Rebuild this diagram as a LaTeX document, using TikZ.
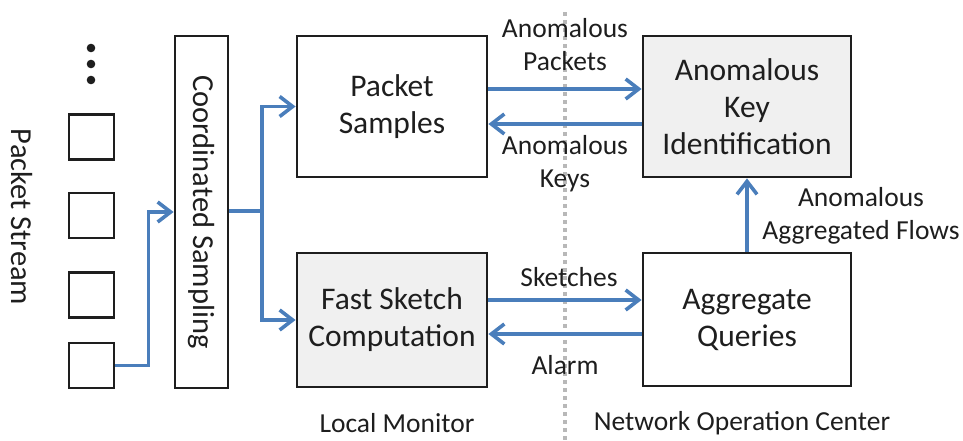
\documentclass[tikz,border=0pt]{standalone}
\usepackage{fontspec}
\setmainfont{Carlito}
\usetikzlibrary{arrows.meta}
\definecolor{flowblue}{RGB}{74,126,187}
\definecolor{boxgray}{RGB}{240,240,240}
\definecolor{ink}{RGB}{30,30,30}
\tikzset{
  block/.style={draw=ink, line width=2.8pt, inner sep=0pt, align=center, text=ink,
    font=\fontsize{31.5}{37}\selectfont},
  shaded/.style={block, fill=boxgray},
  pkt/.style={draw=ink, line width=2.8pt, minimum width=45pt, minimum height=45pt, inner sep=0pt},
  lbl/.style={align=center, text=ink, inner sep=0pt, font=\fontsize{27.5}{33}\selectfont},
  flow/.style={draw=flowblue, line width=3.6pt,
    -{Straight Barb[length=13pt, width=20pt, line width=3.6pt]}},
  plain/.style={draw=flowblue, line width=3.6pt},
  divider/.style={draw=black!28, line width=3.5pt, dash pattern=on 4pt off 4pt}
}
\begin{document}
\begin{tikzpicture}[x=1pt, y=-1pt]
\useasboundingbox (0,0) rectangle (963,440);

% packet stream
\node[pkt] (sq1) at (91.5,137) {};
\node[pkt] (sq2) at (91.5,215.5) {};
\node[pkt] (sq3) at (91.5,295) {};
\node[pkt] (sq4) at (91.5,365.5) {};
\fill[ink] (91,48) circle (4.3pt) (91,64) circle (4.3pt) (91,80) circle (4.3pt);
\node[lbl, rotate=-90, font=\fontsize{30.5}{36}\selectfont] (stream) at (22,217) {Packet Stream};

% sampling stage
\node[block, minimum width=53pt, minimum height=352pt] (cs) at (201.5,212) {};
\node[rotate=-90, text=ink, font=\fontsize{30.5}{36}\selectfont] (cstext) at (cs.center) {Coordinated Sampling};

% local monitor blocks
\node[block, minimum width=190pt, minimum height=141pt] (ps) at (392,106.5) {Packet\\Samples};
\node[shaded, minimum width=190pt, minimum height=134pt] (fsc) at (392,320) {Fast Sketch\\Computation};

% network operation center blocks
\node[shaded, minimum width=208pt, minimum height=141pt] (aki) at (747,106.5) {Anomalous\\Key\\Identification};
\node[block, minimum width=208pt, minimum height=133pt] (aq) at (747,319.5) {Aggregate\\Queries};

% boundary between monitor and center
\draw[divider] (565,12) -- (565,440);

% connectors
\draw[flow] (sq4.east) -- ++(33,0) |- (cs.west);
\coordinate (split) at (262,211);
\draw[plain] (cs.east |- split) -- (split);
\draw[flow] (split) |- (ps.west);
\draw[flow] (split) |- (fsc.west);
\draw[flow] (ps.east |- 0,89) -- (aki.west |- 0,89);
\draw[flow] (aki.west |- 0,124) -- (ps.east |- 0,124);
\draw[flow] (fsc.east |- 0,300) -- (aq.west |- 0,300);
\draw[flow] (aq.west |- 0,334) -- (fsc.east |- 0,334);
\draw[flow] (aq.north) -- (aki.south);

% labels
\node[lbl] (lpk) at (565,45) {Anomalous\\Packets};
\node[lbl] (lky) at (565,164) {Anomalous\\Keys};
\node[lbl] (lsk) at (569,277) {Sketches};
\node[lbl] (lal) at (565,365) {Alarm};
\node[lbl] (lfl) at (861,216) {Anomalous\\Aggregated Flows};
\node[lbl] (llm) at (397,423) {Local Monitor};
\node[lbl] (lnoc) at (742,423) {Network Operation Center};
\end{tikzpicture}
\end{document}
